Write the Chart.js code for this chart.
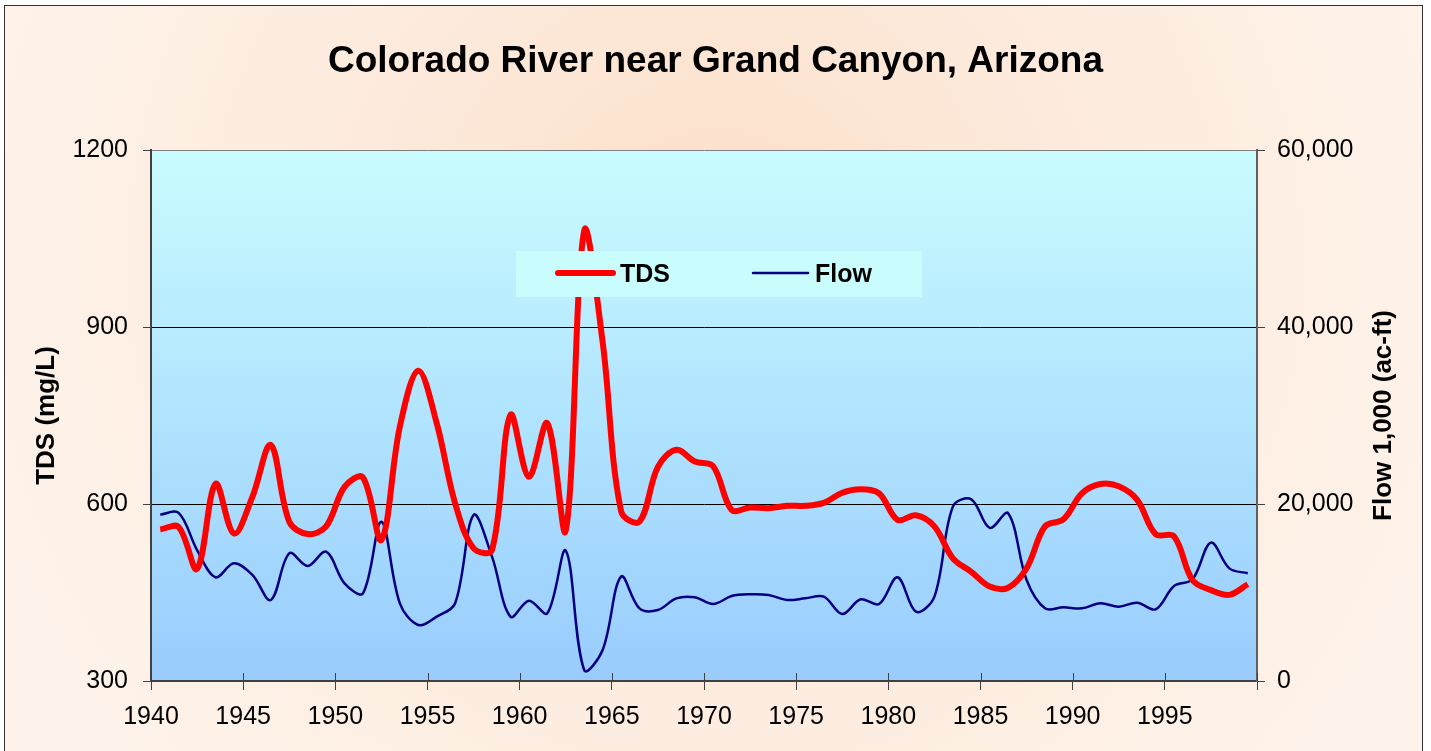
<!DOCTYPE html>
<html>
<head>
<meta charset="utf-8">
<script src="https://cdn.jsdelivr.net/npm/chart.js@4.4.0/dist/chart.umd.min.js"></script>
<style>
  html, body { margin: 0; padding: 0; background: #ffffff; }
  #wrap { width: 1431px; height: 751px; }
</style>
</head>
<body>
<div id="wrap"><canvas id="grafico" width="1431" height="751"></canvas></div>
<script>
// Datos (anuales)
const years = [1940, 1941, 1942, 1943, 1944, 1945, 1946, 1947, 1948, 1949,
  1950, 1951, 1952, 1953, 1954, 1955, 1956, 1957, 1958, 1959,
  1960, 1961, 1962, 1963, 1964, 1965, 1966, 1967, 1968, 1969,
  1970, 1971, 1972, 1973, 1974, 1975, 1976, 1977, 1978, 1979,
  1980, 1981, 1982, 1983, 1984, 1985, 1986, 1987, 1988, 1989,
  1990, 1991, 1992, 1993, 1994, 1995, 1996, 1997, 1998, 1999];

// TDS (mg/L)
const tds = [557, 561, 490, 634, 550, 612, 700, 570, 549, 562,
  629, 645, 539, 731, 826, 737, 601, 525, 522, 751,
  646, 737, 555, 1063, 875, 588, 570, 663, 692, 672,
  664, 590, 594, 593, 597, 597, 602, 619, 625, 618,
  573, 581, 562, 508, 485, 460, 458, 491, 562, 574,
  618, 634, 630, 607, 549, 545, 471, 454, 446, 464];

// Flow (1,000 ac-ft)
const flow = [18800, 19000, 14800, 11720, 13300, 11980, 9150, 14430, 13000, 14610,
  11040, 9910, 18000, 8780, 6330, 7270, 8780, 18760, 14050, 7270,
  9080, 7650, 14730, 1240, 3500, 11790, 8210, 8020, 9340, 9460,
  8700, 9600, 9800, 9720, 9150, 9340, 9530, 7570, 9230, 8700,
  11720, 7830, 9530, 19700, 20530, 17300, 18950, 11410, 8210, 8330,
  8210, 8780, 8400, 8850, 8100, 10740, 11490, 15630, 12730, 12170];

const tdsTicks = [300, 600, 900, 1200];
const flowTicks = [0, 20000, 40000, 60000];
const yearTicks = [1940, 1945, 1950, 1955, 1960, 1965, 1970, 1975, 1980, 1985, 1990, 1995];

// cada valor anual se dibuja a mitad de año
function puntos(valores) {
  return years.map((a, i) => ({ x: a + 0.5, y: valores[i] }));
}

const fondo = {
  id: 'fondo',
  beforeDraw(chart) {
    const ctx = chart.ctx;
    const a = chart.chartArea;
    ctx.save();
    // marco exterior con degradado durazno
    const g = ctx.createRadialGradient(715, 260, 20, 715, 260, 760);
    g.addColorStop(0, '#fcdfc8');
    g.addColorStop(0.45, '#fdeadc');
    g.addColorStop(1, '#fef3ea');
    ctx.fillStyle = g;
    ctx.fillRect(4, 5, 1419, 760);
    ctx.strokeStyle = '#333333';
    ctx.lineWidth = 1;
    ctx.strokeRect(4.5, 5.5, 1418, 760);
    // area del grafico
    const g2 = ctx.createLinearGradient(0, a.top, 0, a.bottom);
    g2.addColorStop(0, '#c9fcff');
    g2.addColorStop(1, '#99ccfd');
    ctx.fillStyle = g2;
    ctx.fillRect(a.left, a.top, a.right - a.left, a.bottom - a.top);
    ctx.restore();
  }
};

const extras = {
  id: 'extras',
  afterDatasetsDraw(chart) {
    const ctx = chart.ctx;
    const a = chart.chartArea;
    ctx.save();
    // marcas del eje x que cruzan el eje
    const sx = chart.scales.x;
    ctx.strokeStyle = '#404040';
    ctx.lineWidth = 1;
    sx.ticks.forEach(t => {
      const px = Math.round(sx.getPixelForValue(t.value)) + 0.5;
      ctx.beginPath();
      ctx.moveTo(px, a.bottom - 8);
      ctx.lineTo(px, a.bottom);
      ctx.stroke();
    });
    // leyenda
    const x0 = a.left + 365, y0 = a.top + 101;
    ctx.fillStyle = '#c8fcfd';
    ctx.fillRect(x0, y0, 406, 46);
    ctx.font = 'bold 25px "Liberation Sans", Arial, sans-serif';
    ctx.textBaseline = 'middle';
    ctx.lineCap = 'round';
    const items = [
      { ds: chart.data.datasets[0], x: x0 + 42 },
      { ds: chart.data.datasets[1], x: x0 + 237 }
    ];
    items.forEach(it => {
      ctx.strokeStyle = it.ds.borderColor;
      ctx.lineWidth = it.ds.borderWidth;
      ctx.beginPath();
      ctx.moveTo(it.x, y0 + 22);
      ctx.lineTo(it.x + 55, y0 + 22);
      ctx.stroke();
      ctx.fillStyle = '#000000';
      ctx.fillText(it.ds.label, it.x + 62, y0 + 24);
    });
    ctx.restore();
  },
  afterDraw(chart) {
    // titulo del eje derecho, leido de abajo hacia arriba
    const ctx = chart.ctx;
    const a = chart.chartArea;
    ctx.save();
    ctx.translate(1384, (a.top + a.bottom) / 2);
    ctx.rotate(-Math.PI / 2);
    ctx.font = 'bold 26px "Liberation Sans", Arial, sans-serif';
    ctx.fillStyle = '#000000';
    ctx.textAlign = 'center';
    ctx.textBaseline = 'middle';
    ctx.fillText('Flow 1,000 (ac-ft)', 0, 0);
    ctx.restore();
  }
};

const fuenteTick = { family: '"Liberation Sans", Arial, sans-serif', size: 25 };
const fuenteTitulo = { family: '"Liberation Sans", Arial, sans-serif', size: 26, weight: 'bold' };

new Chart(document.getElementById('grafico'), {
  type: 'line',
  data: {
    datasets: [{
      label: 'TDS',
      data: puntos(tds),
      borderColor: '#ff0000',
      borderWidth: 6,
      pointRadius: 0,
      tension: 0.35,
      yAxisID: 'y'
    }, {
      label: 'Flow',
      data: puntos(flow),
      borderColor: '#000080',
      borderWidth: 2.5,
      pointRadius: 0,
      tension: 0.35,
      yAxisID: 'y2'
    }]
  },
  options: {
    responsive: false,
    devicePixelRatio: 1,
    animation: false,
    layout: { padding: 0 },
    plugins: {
      legend: { display: false },
      tooltip: { enabled: false },
      title: {
        display: true,
        text: 'Colorado River near Grand Canyon, Arizona',
        color: '#000000',
        font: { family: '"Liberation Sans", Arial, sans-serif', size: 37, weight: 'bold' },
        padding: { top: 40, bottom: 65.6 }
      }
    },
    scales: {
      x: {
        type: 'linear',
        min: 1940,
        max: 2000,
        afterBuildTicks(scale) {
          scale.ticks = yearTicks.concat([2000]).map(v => ({ value: v }));
        },
        afterFit(scale) { scale.height = 70; },
        ticks: {
          color: '#000000',
          font: fuenteTick,
          padding: 12,
          maxRotation: 0,
          callback: v => (yearTicks.includes(v) ? String(v) : '')
        },
        grid: { drawOnChartArea: false, tickLength: 9, tickColor: '#404040' },
        border: { color: '#404040', width: 2 }
      },
      y: {
        position: 'left',
        min: 300,
        max: 1200,
        afterBuildTicks(scale) {
          scale.ticks = tdsTicks.map(v => ({ value: v }));
        },
        afterFit(scale) { scale.width = 151; },
        ticks: { color: '#000000', font: fuenteTick, padding: 15, callback: v => String(v) },
        grid: {
          tickLength: 8,
          tickColor: '#404040',
          color: c => (c.tick && c.tick.value === 1200 ? '#808080' : (c.tick && c.tick.value === 300 ? 'rgba(0,0,0,0)' : '#000000')),
          lineWidth: 1
        },
        border: { color: '#404040', width: 2 },
        title: {
          display: true,
          text: 'TDS (mg/L)',
          color: '#000000',
          font: fuenteTitulo,
          padding: { top: 31 }
        }
      },
      y2: {
        position: 'right',
        min: 0,
        max: 60000,
        afterBuildTicks(scale) {
          scale.ticks = flowTicks.map(v => ({ value: v }));
        },
        afterFit(scale) { scale.width = 174; },
        ticks: {
          color: '#000000',
          font: fuenteTick,
          padding: 12,
          callback: v => v.toLocaleString('en-US')
        },
        grid: { drawOnChartArea: false, tickLength: 8, tickColor: '#404040' },
        border: { color: '#606060', width: 2 }
      }
    }
  },
  plugins: [fondo, extras]
});
</script>
</body>
</html>
